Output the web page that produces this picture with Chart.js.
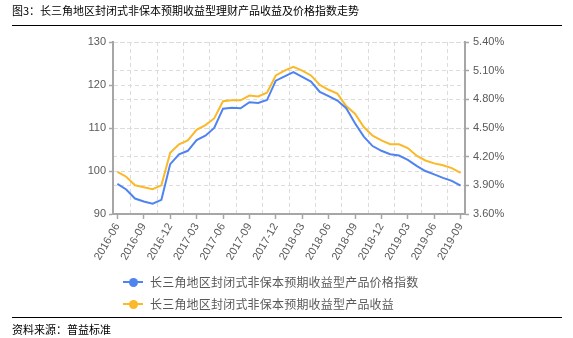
<!DOCTYPE html>
<html>
<head>
<meta charset="utf-8">
<script src="https://cdn.jsdelivr.net/npm/chart.js@4"></script>
<style>
  body { margin: 0; background: #fff; }
  .wrap { position: relative; width: 573px; height: 338px; overflow: hidden; font-family: "Noto Sans CJK SC", sans-serif; }
  canvas { position: absolute; left: 0; top: 0; }
  .title { position: absolute; left: 12px; top: 4px; font-size: 11px; line-height: 13px; color: #000; white-space: nowrap; }
  .rule { position: absolute; left: 12px; width: 550px; height: 1px; background: #000; }
  .source { position: absolute; left: 12px; top: 323px; font-size: 11px; line-height: 13px; color: #000; white-space: nowrap; }
  .legend { position: absolute; left: 123px; top: 275px; }
  .legend-row { position: relative; height: 22px; }
  .legend-line { position: absolute; left: 0; top: 6px; width: 20px; height: 2px; }
  .legend-dot { position: absolute; left: 6px; top: 2.5px; width: 9px; height: 9px; border-radius: 50%; }
  .legend-text { position: absolute; left: 27px; top: 0; font-size: 12px; line-height: 14px; color: #595959; white-space: nowrap; letter-spacing: 0.2px; }
</style>
</head>
<body>
<div class="wrap">
  <canvas class="js-chart" width="573" height="338"></canvas>
  <div class="title">图3：长三角地区封闭式非保本预期收益型理财产品收益及价格指数走势</div>
  <div class="rule" style="top:25px"></div>
  <div class="legend js-legend"></div>
  <div class="rule" style="top:317px"></div>
  <div class="source">资料来源：普益标准</div>
</div>
<script>
const months = [
  "2016-06", "2016-07", "2016-08", "2016-09", "2016-10", "2016-11", "2016-12",
  "2017-01", "2017-02", "2017-03", "2017-04", "2017-05", "2017-06", "2017-07",
  "2017-08", "2017-09", "2017-10", "2017-11", "2017-12", "2018-01", "2018-02",
  "2018-03", "2018-04", "2018-05", "2018-06", "2018-07", "2018-08", "2018-09",
  "2018-10", "2018-11", "2018-12", "2019-01", "2019-02", "2019-03", "2019-04",
  "2019-05", "2019-06", "2019-07", "2019-08", "2019-09"
];

// 价格指数 (left axis)
const priceIndex = [
  97.0, 95.7, 93.6, 92.9, 92.4, 93.3, 101.6, 103.9, 104.7, 107.2,
  108.2, 110.0, 114.5, 114.7, 114.6, 116.0, 115.8, 116.5, 121.0, 122.0,
  123.0, 121.9, 120.8, 118.4, 117.4, 116.4, 114.6, 111.1, 108.0, 105.8,
  104.7, 103.9, 103.6, 102.6, 101.2, 100.0, 99.2, 98.4, 97.7, 96.6
];

// 收益率 % (right axis)
const yieldRate = [
  4.04, 3.99, 3.90, 3.88, 3.86, 3.90, 4.24, 4.33, 4.37, 4.48,
  4.53, 4.60, 4.78, 4.79, 4.79, 4.84, 4.83, 4.87, 5.05, 5.10,
  5.14, 5.10, 5.05, 4.95, 4.90, 4.86, 4.73, 4.65, 4.51, 4.42,
  4.37, 4.33, 4.33, 4.29, 4.21, 4.16, 4.13, 4.11, 4.08, 4.03
];

const seriesNames = [
  "长三角地区封闭式非保本预期收益型产品价格指数",
  "长三角地区封闭式非保本预期收益型产品收益"
];

const AXIS_COLOR = "#a6a6a6";
const GRID_COLOR = "#dcdcdc";
const TEXT_COLOR = "#595959";
const BLUE = "#4f83f0";
const ORANGE = "#fbb829";

const tickFont = { family: "'Liberation Sans', Arial, sans-serif", size: 11 };

function everyQuarter(axis) {
  axis.ticks = axis.ticks.filter((t) => t.value % 3 === 0);
}

const ctx = document.querySelector(".js-chart").getContext("2d");

const chart = new Chart(ctx, {
  type: "line",
  data: {
    labels: months,
    datasets: [
      {
        label: seriesNames[0],
        data: priceIndex,
        yAxisID: "y",
        borderColor: BLUE,
        backgroundColor: BLUE,
        borderWidth: 2,
        pointRadius: 0,
        tension: 0,
        fill: false,
      },
      {
        label: seriesNames[1],
        data: yieldRate,
        yAxisID: "y1",
        borderColor: ORANGE,
        backgroundColor: ORANGE,
        borderWidth: 2,
        pointRadius: 0,
        tension: 0,
        fill: false,
      },
    ],
  },
  options: {
    responsive: false,
    animation: false,
    layout: { padding: { top: 42, bottom: 74, left: 0, right: 0 } },
    plugins: {
      legend: { display: false },
      tooltip: { enabled: false },
    },
    scales: {
      x: {
        type: "category",
        position: "bottom",
        offset: true,
        afterBuildTicks: everyQuarter,
        afterFit(scale) { scale.height = 50; },
        grid: {
          drawOnChartArea: false,
          offset: false,
          tickLength: 5,
          tickColor: AXIS_COLOR,
          tickWidth: 1.5,
        },
        border: { color: AXIS_COLOR, width: 2 },
        ticks: {
          autoSkip: false,
          minRotation: 60,
          maxRotation: 60,
          padding: 2,
          color: TEXT_COLOR,
          font: tickFont,
        },
      },
      xg: {
        type: "category",
        position: "top",
        offset: true,
        afterBuildTicks: everyQuarter,
        grid: { offset: true, drawTicks: false, color: GRID_COLOR },
        border: { display: false, dash: [4, 3] },
        ticks: { display: false },
      },
      y: {
        position: "left",
        min: 90,
        max: 130,
        afterFit(scale) { scale.width = 113; },
        ticks: { stepSize: 10, padding: 3, color: TEXT_COLOR, font: tickFont },
        grid: { color: GRID_COLOR, tickLength: 4, tickColor: AXIS_COLOR, tickWidth: 1.5 },
        border: { color: AXIS_COLOR, width: 2, dash: [4, 3] },
      },
      y1: {
        position: "right",
        min: 3.6,
        max: 5.4,
        afterFit(scale) { scale.width = 108; },
        ticks: {
          stepSize: 0.3,
          padding: 4,
          color: TEXT_COLOR,
          font: tickFont,
          callback(value) {
            return value.toFixed(2) + "%";
          },
        },
        grid: { color: GRID_COLOR, tickLength: 4, tickColor: AXIS_COLOR, tickWidth: 1.5 },
        border: { color: AXIS_COLOR, width: 2, dash: [4, 3] },
      },
    },
  },
});

// legend: line with a dot, one row per series
const legendBox = document.querySelector(".js-legend");
chart.data.datasets.forEach((ds) => {
  const row = document.createElement("div");
  row.className = "legend-row";
  row.innerHTML =
    '<div class="legend-line" style="background:' + ds.borderColor + '"></div>' +
    '<div class="legend-dot" style="background:' + ds.borderColor + '"></div>' +
    '<div class="legend-text"></div>';
  row.querySelector(".legend-text").textContent = ds.label;
  legendBox.appendChild(row);
});
</script>
</body>
</html>
